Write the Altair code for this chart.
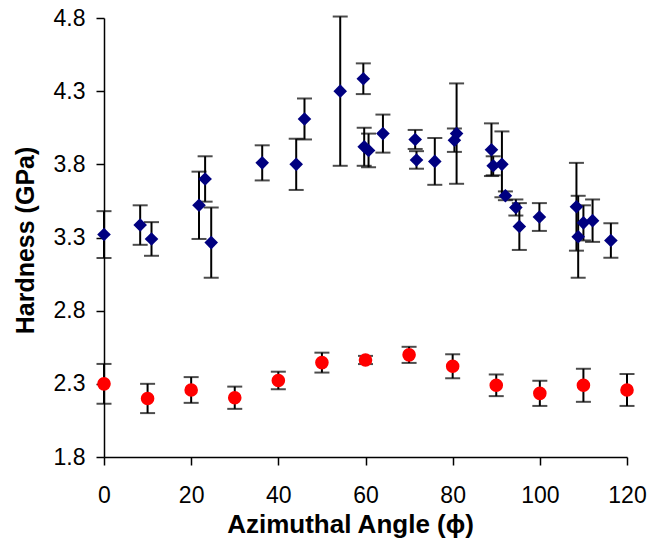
import altair as alt
import pandas as pd

# ---- data ----
blue_angle = [0, 8.3, 10.9, 21.8, 23.2, 24.6, 36.3, 44.1, 46.0, 54.2, 59.5, 59.7, 60.7,
              64.0, 71.4, 71.7, 75.9, 80.4, 80.9, 88.9, 89.3, 91.3, 92.1, 94.5, 95.3,
              99.9, 108.4, 108.8, 110.0, 112.1, 116.3]
blue_hard = [3.32, 3.385, 3.29, 3.52, 3.70, 3.265, 3.81, 3.80, 4.11, 4.30, 4.385, 3.92, 3.895,
             4.01, 3.97, 3.83, 3.82, 3.965, 4.01, 3.90, 3.79, 3.80, 3.585, 3.505, 3.375,
             3.44, 3.51, 3.305, 3.40, 3.415, 3.28]
blue_err = [0.16, 0.135, 0.115, 0.23, 0.155, 0.24, 0.12, 0.175, 0.14, 0.51, 0.105, 0.13, 0.115,
            0.13, 0.065, 0.06, 0.16, 0.08, 0.343, 0.18, 0.065, 0.225, 0.03, 0.055, 0.16,
            0.095, 0.30, 0.28, 0.12, 0.145, 0.118]

red_angle = [0, 10, 20, 30, 40, 50, 60, 70, 80, 90, 100, 110, 120]
red_hard = [2.30, 2.20, 2.258, 2.205, 2.323, 2.445, 2.463, 2.498, 2.42, 2.29, 2.235, 2.29, 2.258]
red_err = [0.136, 0.10, 0.088, 0.076, 0.06, 0.068, 0.028, 0.055, 0.082, 0.074, 0.086, 0.113, 0.109]

x_ticks = [0, 20, 40, 60, 80, 100, 120]
y_ticks = [1.8, 2.3, 2.8, 3.3, 3.8, 4.3, 4.8]

rows = []
for a, h, e in zip(blue_angle, blue_hard, blue_err):
    rows.append({"angle": a, "hardness": h, "lo": h - e, "hi": h + e, "series": "blue"})
for a, h, e in zip(red_angle, red_hard, red_err):
    rows.append({"angle": a, "hardness": h, "lo": h - e, "hi": h + e, "series": "red"})
df = pd.DataFrame(rows)

FONT = "Liberation Sans"

xscale = alt.Scale(domain=[0, 120], nice=False, zero=False)
yscale = alt.Scale(domain=[1.8, 4.8], nice=False, zero=False)

x_axis = alt.Axis(values=x_ticks, title="Azimuthal Angle (\u03d5)", grid=False,
                  domainColor="black", domainWidth=1.5, tickColor="black", tickWidth=1.5,
                  tickSize=8, labelFont=FONT, labelFontSize=23, labelColor="black",
                  labelPadding=19, labelFlush=False,
                  titleFont=FONT, titleFontSize=26, titleFontWeight="bold", titleColor="black",
                  titleX=246, titleY=75, titleBaseline="alphabetic", titleAlign="center")
y_axis = alt.Axis(values=y_ticks, format=".1f", title="Hardness (GPa)", grid=False,
                  domainColor="black", domainWidth=1.5, tickColor="black", tickWidth=1.5,
                  tickSize=8, labelFont=FONT, labelFontSize=23, labelColor="black",
                  labelPadding=11, labelFlush=False,
                  titleFont=FONT, titleFontSize=25, titleFontWeight="bold", titleColor="black",
                  titleX=-71, titleY=222, titleAngle=-90, titleBaseline="alphabetic",
                  titleAlign="center")

X = alt.X("angle:Q", scale=xscale, axis=x_axis)

base = alt.Chart(df)

bars = base.mark_rule(color="black", strokeWidth=2).encode(
    x=X,
    y=alt.Y("lo:Q", scale=yscale, axis=y_axis),
    y2="hi:Q",
)
cap_lo = base.mark_tick(orient="horizontal", color="black", size=15, thickness=2).encode(
    x=X,
    y=alt.Y("lo:Q", scale=yscale, axis=y_axis),
)
cap_hi = base.mark_tick(orient="horizontal", color="black", size=15, thickness=2).encode(
    x=X,
    y=alt.Y("hi:Q", scale=yscale, axis=y_axis),
)
points = base.mark_point(filled=True, opacity=1, size=185, strokeWidth=0).encode(
    x=X,
    y=alt.Y("hardness:Q", scale=yscale, axis=y_axis),
    color=alt.Color("series:N", scale=alt.Scale(domain=["blue", "red"], range=["#000080", "#ff0000"]), legend=None),
    shape=alt.Shape("series:N", scale=alt.Scale(domain=["blue", "red"], range=["diamond", "circle"]), legend=None),
)

chart = alt.layer(bars, cap_lo, cap_hi, points).properties(
    width=523, height=439,
    autosize=alt.AutoSizeParams(type="none"),
    padding={"left": 104, "top": 18, "right": 24, "bottom": 82},
    background="white",
).configure_view(stroke=None)

chart.save("out.html", embed_options={"renderer": "svg", "actions": False})
